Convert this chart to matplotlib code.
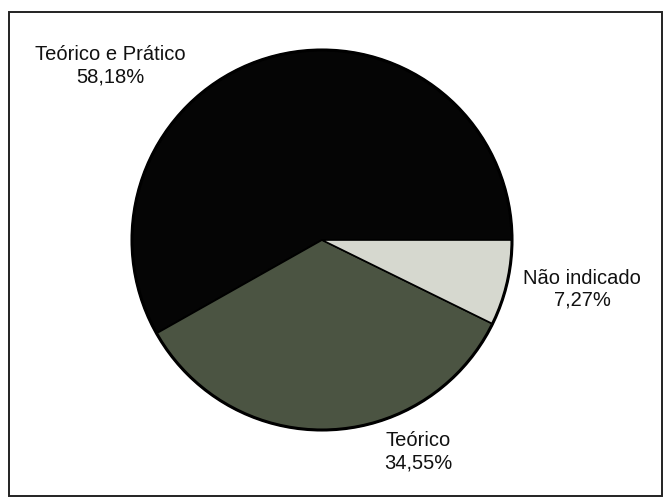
import matplotlib.pyplot as plt
from matplotlib.patches import Rectangle

plt.rcParams['font.family'] = ['Liberation Sans', 'DejaVu Sans']

# share of answers per category
categories = ['Teórico e Prático', 'Teórico', 'Não indicado']
values = [58.18, 34.55, 7.27]
colors = ['#050505', '#4b5442', '#d6d8cf']

W, H = 663, 502
fig = plt.figure(figsize=(W / 100, H / 100), dpi=100)
ax = fig.add_axes([0, 0, 1, 1])

# pie centred in pixel space (y measured from the bottom)
ax.pie(values, colors=colors, startangle=0, counterclock=True,
       center=(322, H - 241), radius=190,
       wedgeprops={'edgecolor': 'black', 'linewidth': 1.2})
# outer rim drawn slightly heavier
ax.add_patch(plt.Circle((322, H - 241), 190, fill=False, edgecolor='black', linewidth=2.2))

# pie() resets the limits, so set them afterwards
ax.set_xlim(0, W)
ax.set_ylim(0, H)
ax.set_aspect('equal')
ax.axis('off')

def pct(v):
    return f'{v:.2f}'.replace('.', ',') + '%'

label_pos = {
    'Teórico e Prático': (110, H - 66),
    'Teórico': (418, H - 452),
    'Não indicado': (582, H - 289),
}
for cat, v in zip(categories, values):
    x, y = label_pos[cat]
    ax.text(x, y, f'{cat}\n{pct(v)}', ha='center', va='center',
            fontsize=14.5, linespacing=1.2, color='#111111')

# box around the whole chart
ax.add_patch(Rectangle((9, H - 497), 653, 484, fill=False,
                       edgecolor='#222222', linewidth=1.4))

fig.savefig('out.png', dpi=100)
